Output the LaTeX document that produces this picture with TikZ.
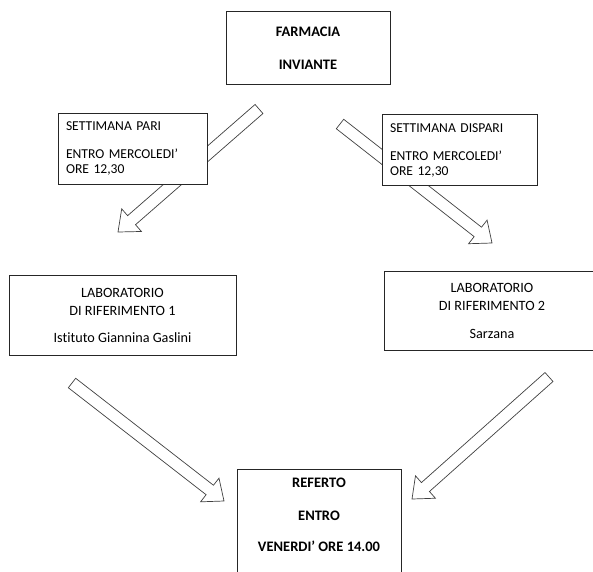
\documentclass[tikz,border=0pt]{standalone}
\usepackage{fontspec}
\setmainfont{Carlito}[Ligatures=NoCommon]
\usetikzlibrary{calc, backgrounds}

\begin{document}
\begin{tikzpicture}[
      x=1pt, y=-1pt,
      box/.style={rectangle, draw=black!85, line width=0.8pt, fill=white, inner sep=0pt},
      title/.style={font=\bfseries\fontsize{14.5}{18}\selectfont, align=center},
      note/.style={box, font=\fontsize{13.6}{15}\selectfont, align=left, inner xsep=8pt, minimum height=71pt},
      lab/.style={box, font=\fontsize{14.2}{18}\selectfont, align=center, minimum height=80pt},
      barrow/.style={draw=black!75, fill=white, line width=0.7pt, line join=miter}
    ]
      \useasboundingbox (0,0) rectangle (593,571);

      % riquadri
      \node[box, title, minimum width=164pt, minimum height=73pt] (farmacia) at (308,48) {FARMACIA\\[15pt]INVIANTE};
      \node[note, text width=133pt] (pari) at (132.5,148.5) {SETTIMANA PARI\\[13pt]ENTRO MERCOLEDI’\\ORE 12,30};
      \node[note, text width=139pt] (dispari) at (459.5,150) {SETTIMANA DISPARI\\[13pt]ENTRO MERCOLEDI’\\ORE 12,30};
      \node[lab, minimum width=227pt] (lab1) at (122.5,315) {LABORATORIO\\DI RIFERIMENTO 1\\[9pt]Istituto Giannina Gaslini};
      \node[lab, minimum width=216pt, minimum height=79pt] (lab2) at (492,310.5) {LABORATORIO\\DI RIFERIMENTO 2\\[10pt]Sarzana};
      \node[box, minimum width=164pt, minimum height=140pt, anchor=north west] (referto) at (237,469) {};
      \node[title, inner sep=0pt, anchor=north] (refertotxt) at (319,478) {REFERTO\\[15pt]ENTRO\\[13pt]VENERDI’ ORE 14.00};

      % estremi delle frecce
      \coordinate (a1s) at (259,109);
      \coordinate (a1e) at (118,232);
      \coordinate (a2s) at (340,124);
      \coordinate (a2e) at (492,243);
      \coordinate (a3s) at (72,383);
      \coordinate (a3e) at (224,501);
      \coordinate (a4s) at (549,377);
      \coordinate (a4e) at (412,499);

      \begin{scope}[on background layer]
        \foreach \s/\e in {a1s/a1e, a2s/a2e, a3s/a3e, a4s/a4e} {
          \coordinate (hb) at ($(\e)!18pt!(\s)$);
          \draw[barrow] ($(\s)!6pt!90:(\e)$) -- ($(hb)!6pt!90:(\e)$) -- ($(hb)!15pt!90:(\e)$) -- (\e)
            -- ($(hb)!15pt!-90:(\e)$) -- ($(hb)!6pt!-90:(\e)$) -- ($(\s)!6pt!-90:(\e)$) -- cycle;
        }
      \end{scope}
\end{tikzpicture}
\end{document}
